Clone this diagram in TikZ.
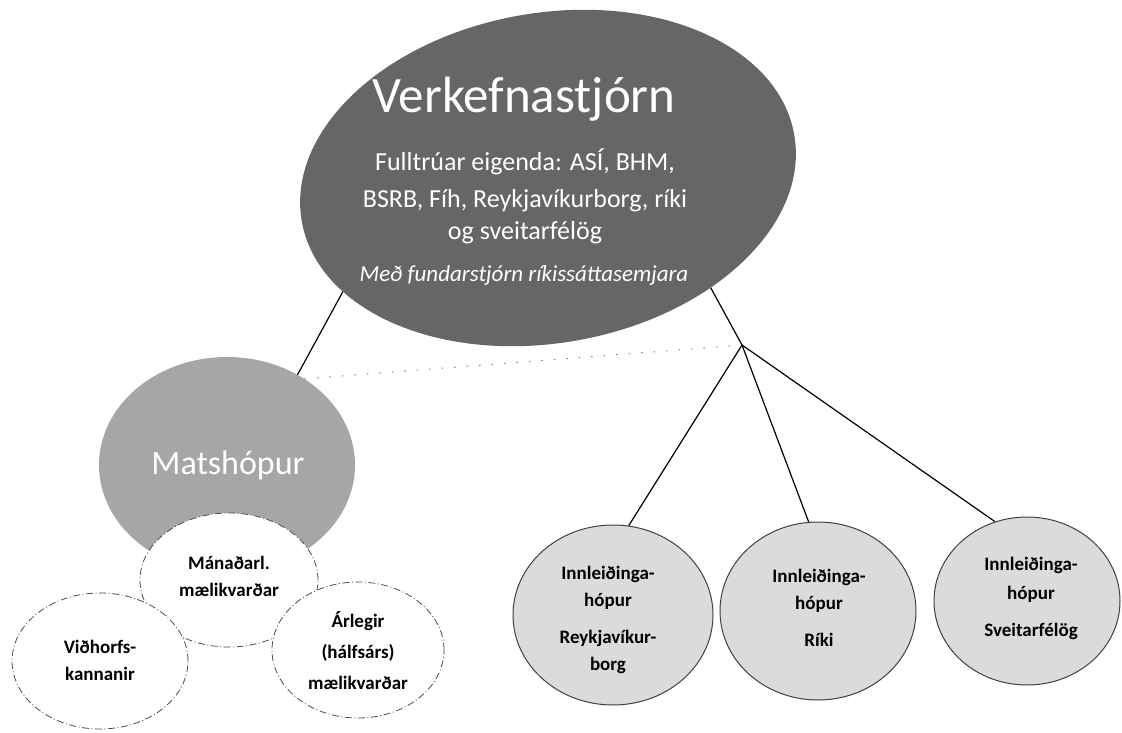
\documentclass[tikz,border=0pt]{standalone}
\usepackage{fontspec}
\setmainfont{Carlito}
\usetikzlibrary{shapes.geometric}

\tikzset{
  boardtext/.style={text=white, font=\fontsize{26}{30}\selectfont},
  groupcircle/.style={ellipse, draw=black!75, line width=1pt, fill=black!14, inner sep=0pt},
  subcircle/.style={ellipse, draw=black!70, line width=0.8pt, dash pattern=on 7pt off 2.5pt on 1pt off 2.5pt, fill=white, inner sep=0pt},
  boldlabel/.style={align=center, font=\fontsize{19}{27}\selectfont\bfseries},
  link/.style={draw=black, line width=1.2pt},
}

\begin{document}
\begin{tikzpicture}[x=1pt, y=-1pt]
\useasboundingbox (0,0) rectangle (1122,733);
% steering board on top
\node[ellipse, fill=black!60, rotate=10, minimum width=500pt, minimum height=330pt, inner sep=0pt] (board) at (548,178) {};
\node[anchor=base, text=white, font=\fontsize{51}{51}\selectfont] (boardtitle) at (524,113) {Verkefnastjórn};
\foreach \txt/\y [count=\i] in {{Fulltrúar eigenda: ASÍ, BHM,}/171, {BSRB, Fíh, Reykjavíkurborg, ríki}/207, {og sveitarfélög}/239}
  \node[boardtext, anchor=base] (owners\i) at (525,\y) {\txt};
\node[anchor=base, text=white, font=\fontsize{23}{26}\selectfont\itshape] (chair) at (524,281) {Með fundarstjórn ríkissáttasemjara};

% evaluation group with its three measures
\node[ellipse, fill=black!35, minimum width=256pt, minimum height=216pt, inner sep=0pt] (mats) at (227,465) {};
\node[text=white, font=\fontsize{34}{34}\selectfont] (matstitle) at (228,465) {Matshópur};
\node[subcircle, minimum width=178pt, minimum height=134pt] (monthly) at (229,580) {};
\node[boldlabel] at (229,576) {Mánaðarl.\\mælikvarðar};
\node[subcircle, minimum width=176pt, minimum height=136pt] (survey) at (100,661) {};
\node[boldlabel] at (100,660) {Viðhorfs-\\kannanir};
\node[subcircle, minimum width=172pt, minimum height=136pt] (yearly) at (358,650) {};
\node[boldlabel, font=\fontsize{19}{31}\selectfont\bfseries] at (358,651) {Árlegir\\(hálfsárs)\\mælikvarðar};

% implementation groups
\node[groupcircle, minimum width=200pt, minimum height=180pt] (rvk) at (613,615) {};
\node[boldlabel] at (608,620) {Innleiðinga-\\hópur\\[10pt]Reykjavíkur-\\borg};
\node[groupcircle, minimum width=196pt, minimum height=178pt] (riki) at (818,611) {};
\node[boldlabel] at (819,608) {Innleiðinga-\\hópur\\[10pt]Ríki};
\node[groupcircle, minimum width=186pt, minimum height=168pt] (sveit) at (1027,601) {};
\node[boldlabel, font=\fontsize{19}{29}\selectfont\bfseries] at (1031,598) {Innleiðinga-\\hópur\\[8pt]Sveitarfélög};

% connectors
\coordinate (fork) at (742,345);
\draw[link] (board.199) -- (mats.52);
\draw[gray, line width=1pt, dash pattern=on 1.5pt off 11pt] (mats.48) -- (fork);
\draw[link] (board.-44) -- (fork);
\draw[link] (fork) -- (rvk.80);
\draw[link] (fork) -- (riki.96);
\draw[link] (fork) -- (sveit.112);
\end{tikzpicture}
\end{document}
